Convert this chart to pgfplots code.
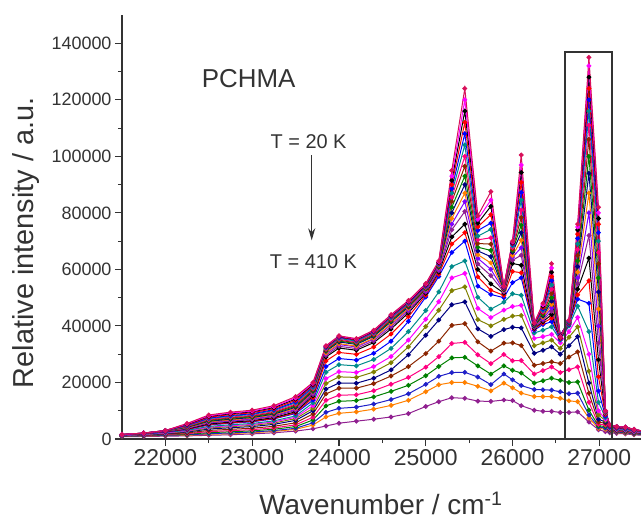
\documentclass[border=0pt]{standalone}
\usepackage{pgfplots}
\pgfplotsset{compat=1.18}
\usepackage{pgfplotstable}
\usetikzlibrary{arrows.meta}
\usepackage{fontspec}
\setmainfont{Liberation Sans}
\definecolor{cCrimson}{HTML}{D8105A}
\definecolor{cMagenta}{HTML}{FF00FF}
\definecolor{cBlack}{HTML}{000000}
\definecolor{cRed}{HTML}{FF0000}
\definecolor{cBlue}{HTML}{0000FF}
\definecolor{cDCyan}{HTML}{008B8B}
\definecolor{cPink}{HTML}{FF0080}
\definecolor{cWine}{HTML}{8B2500}
\definecolor{cGreen}{HTML}{008000}
\definecolor{cNavy}{HTML}{000080}
\definecolor{cOrange}{HTML}{FF8000}
\definecolor{cViolet}{HTML}{8000FF}
\definecolor{cPurple}{HTML}{902090}
\definecolor{cOlive}{HTML}{808000}
\definecolor{cRoyal}{HTML}{2020C8}
\definecolor{axgray}{HTML}{333333}
\pgfplotstableread{
x c1 c2 c3 c4 c5 c6 c7 c8 c9 c10 c11 c12 c13 c14 c15 c16 c17 c18 c19 c20 c21 c22 c23 c24 c25 c26
21500 1600 1600 1600 1590 1580 1580 1570 1560 1550 1540 1530 1520 1500 1490 1450 1390 1340 1270 1220 1170 1120 1060 1000 940 890 800
21750 2100 2090 2090 2080 2080 2060 2050 2040 2030 2020 1990 1980 1960 1930 1870 1790 1700 1610 1540 1450 1380 1280 1200 1100 1040 900
22000 3000 2990 2980 2970 2960 2940 2920 2900 2880 2860 2820 2800 2760 2720 2620 2480 2340 2180 2060 1920 1800 1640 1500 1340 1230 1000
22250 5500 5320 5190 5020 4840 4710 4530 4400 4270 4140 4000 3870 3740 3560 3430 3340 3040 2860 2680 2460 2160 1890 1670 1450 1320 1100
22500 8500 8210 8000 7710 7420 7200 6920 6700 6480 6270 6050 5840 5620 5330 5120 4970 4470 4180 3890 3530 3030 2600 2240 1880 1660 1300
22750 9500 9180 8940 8620 8300 8060 7740 7500 7260 7020 6780 6540 6300 5980 5740 5580 5020 4700 4380 3980 3420 2940 2540 2140 1900 1500
23000 10200 9860 9610 9280 8940 8690 8350 8100 7850 7600 7340 7090 6840 6500 6250 6080 5500 5160 4820 4400 3820 3310 2890 2470 2220 1800
23250 11800 11420 11130 10740 10360 10070 9690 9400 9110 8820 8540 8250 7960 7580 7290 7100 6420 6040 5660 5180 4500 3930 3450 2970 2680 2200
23500 15000 14510 14150 13660 13170 12800 12320 11950 11580 11220 10850 10490 10120 9630 9270 9020 8170 7680 7190 6580 5730 5000 4390 3780 3410 2800
23700 20000 19670 19340 19020 18690 18200 17870 17540 17210 16880 16560 16230 15740 15240 14590 13770 12780 11800 10820 10000 8850 7700 6720 5730 4910 3600
23850 33000 32860 32720 32570 32430 32150 31860 31580 31300 31010 30440 30160 29590 29020 27600 25620 23630 21360 19650 17660 15960 13690 11700 9430 7810 4600
24000 36500 36350 36190 36040 35880 35570 35260 34960 34650 34340 33720 33410 32790 32170 30630 28470 26300 23830 21980 19810 17960 15490 13330 10850 9090 5600
24200 35500 35350 35210 35060 34920 34620 34330 34040 33750 33460 32870 32580 32000 31410 29950 27910 25860 23530 21780 19730 17980 15640 13600 11260 9600 6300
24400 38500 38340 38190 38030 37870 37560 37240 36930 36610 36300 35670 35350 34720 34090 32520 30310 28110 25590 23700 21490 19600 17080 14880 12360 10560 7000
24600 44000 43820 43640 43460 43280 42910 42550 42190 41830 41470 40740 40380 39660 38930 37120 34590 32050 29160 26990 24450 22280 19380 16850 13950 11890 7800
24800 49000 48800 48600 48400 48200 47900 47600 47300 47000 46700 46200 45800 45200 44600 43300 41600 38000 35000 32600 29800 25600 21800 19000 16000 13700 9000
25000 55000 54780 54570 54350 54130 53910 53700 53480 53260 53040 52830 52390 51960 51520 50870 50220 45430 42390 39780 36730 30210 25420 22380 19330 16720 11500
25150 63000 62750 62500 62250 62000 61760 61510 61260 61010 60760 60510 60010 59510 59020 58270 57520 52040 48560 45570 42080 34610 29140 25650 22160 19180 13200
25300 95000 93000 91500 90000 88500 87000 85500 84000 82000 80000 78000 76000 74000 71500 69000 66000 61000 57000 52500 47500 40200 33800 28700 23500 20000 14600
25450 124000 120000 116000 112000 108000 104000 100000 96500 93000 90000 87000 84000 80500 76000 73000 70000 63000 58600 53800 48500 40800 34200 28900 23600 20000 14400
25600 79000 77690 76380 75060 73750 71780 70470 69160 67850 66540 65220 63910 61940 59980 57350 54070 50140 46200 42260 38980 34390 29800 25860 21930 18650 13400
25750 87500 84530 82310 79340 76370 74140 71180 68950 66720 64500 62270 60050 57820 54850 52630 51140 45950 42980 40010 36300 31110 26660 22950 19240 17010 13300
25900 54000 54000 53800 53800 53600 53600 53400 53200 53000 52800 52600 52400 52000 51600 50800 50000 48400 45600 42300 38700 33900 29900 25900 23000 19800 13800
26000 70000 69720 69440 69150 68870 68310 67740 67180 66620 66050 64920 64360 63230 62100 59280 55340 51390 46880 43490 39540 34000 27700 24320 20930 18110 13600
26100 100500 96950 94290 90740 87200 84530 80990 78330 75660 73000 70340 67680 65020 61470 58810 57040 50830 47280 43730 39300 33090 27770 23330 18900 16240 11800
26250 41000 41000 40800 40800 40700 40600 40500 40400 40200 40000 39900 39700 39500 39200 38900 38500 37500 35600 33000 30300 26100 23000 19800 17500 15000 10200
26350 48000 47500 47000 46500 46000 45500 45000 44500 44000 43500 43000 42500 42000 41500 41000 40500 38500 36200 34000 31400 26700 24200 20600 17400 15000 9800
26450 62000 60500 59000 57500 56000 54500 53000 51500 50000 48800 47600 46400 45200 44000 42800 41500 39700 37000 35000 32600 27300 25500 21500 17300 15000 9800
26550 36000 36200 36400 36500 36600 36700 36700 36600 36500 36400 36300 36200 36000 35800 35600 35400 35000 34000 32000 30000 26700 23500 20800 16700 14400 9400
26650 42000 42000 41900 41800 41700 41600 41500 41400 41300 41200 41100 41000 40900 40800 40700 40500 40000 38000 36000 33000 29000 24500 20000 16000 13500 9400
26750 76000 75000 74000 72500 71000 69000 67000 65000 63000 61000 59000 57000 55000 53000 51000 49500 47000 43000 39700 36200 30800 25500 20200 16200 13200 9600
26880 135000 132000 128000 124000 120000 116000 111000 106000 100000 94000 87000 80000 72000 64000 56000 48000 38000 30000 24000 19800 16200 13000 10200 8500 7400 6000
26990 82000 80000 78000 76000 73000 70000 66000 62000 57000 52000 46000 40000 34000 28000 22000 17000 13000 10000 8500 7000 6000 5200 4600 4200 3800 3300
27070 10000 9960 9930 9890 9850 9780 9700 9630 9560 9480 9330 9260 9110 8960 8590 8080 7560 6970 6520 6000 5560 4970 4450 3860 3440 2600
27120 5000 4990 4970 4960 4940 4920 4890 4860 4830 4800 4750 4720 4660 4610 4470 4270 4080 3850 3680 3490 3320 3100 2900 2680 2520 2200
27200 4400 4390 4380 4360 4350 4330 4300 4280 4260 4230 4180 4160 4110 4060 3940 3780 3610 3420 3270 3100 2960 2770 2600 2410 2270 2000
27300 4200 4190 4180 4160 4150 4130 4100 4080 4060 4030 3980 3960 3910 3860 3740 3580 3410 3220 3070 2900 2760 2570 2400 2210 2070 1800
27400 3400 3390 3380 3370 3360 3340 3320 3310 3290 3270 3230 3210 3170 3130 3040 2910 2770 2620 2510 2370 2260 2110 1980 1820 1710 1500
27500 2800 2790 2790 2780 2770 2760 2740 2730 2710 2700 2670 2650 2620 2590 2520 2410 2310 2190 2100 1990 1900 1780 1680 1560 1470 1300
}\spectra

\begin{document}
\begin{tikzpicture}
\begin{axis}[
  at={(0,0)}, anchor=south west,
  scale only axis, width=519bp, height=424bp,
  xmin=21500, xmax=27480, ymin=0, ymax=150000,
  axis lines*=left,
  axis line style={line width=1.3bp, color=axgray},
  tick align=outside,
  major tick length=7bp, minor tick length=4bp,
  every tick/.style={line width=1.1bp, color=axgray},
  xtick={22000,23000,24000,25000,26000,27000}, minor x tick num=1,
  ytick={0,20000,40000,60000,80000,100000,120000,140000}, minor y tick num=1,
  scaled ticks=false,
  /pgf/number format/fixed,
  /pgf/number format/precision=0,
  /pgf/number format/1000 sep={},
  /pgf/number format/assume math mode=true,
  xticklabel style={font=\fontsize{23}{26}\selectfont, text=axgray},
  yticklabel style={font=\fontsize{18}{21}\selectfont, text=axgray},
  xlabel={Wavenumber / cm\textsuperscript{-1}},
  ylabel={Relative intensity / a.u.},
  xlabel style={font=\fontsize{28}{32}\selectfont, text=axgray, at={(axis description cs:0.499,-0.179)}, anchor=base},
  ylabel style={font=\fontsize{29}{33}\selectfont, text=axgray, at={(axis description cs:-0.170,0.463)}, anchor=base},
  clip=true,
  every axis plot/.append style={line width=1bp, mark=*, mark size=1.9bp, mark options={solid}},
]
\addplot[color=cPurple] table[x=x,y=c26]{\spectra};
\addplot[color=cOrange] table[x=x,y=c25]{\spectra};
\addplot[color=cRoyal] table[x=x,y=c24]{\spectra};
\addplot[color=cGreen] table[x=x,y=c23]{\spectra};
\addplot[color=cPink] table[x=x,y=c22]{\spectra};
\addplot[color=cWine] table[x=x,y=c21]{\spectra};
\addplot[color=cNavy] table[x=x,y=c20]{\spectra};
\addplot[color=cOlive] table[x=x,y=c19]{\spectra};
\addplot[color=cMagenta] table[x=x,y=c18]{\spectra};
\addplot[color=cDCyan] table[x=x,y=c17]{\spectra};
\addplot[color=cBlue] table[x=x,y=c16]{\spectra};
\addplot[color=cRed] table[x=x,y=c15]{\spectra};
\addplot[color=cBlack] table[x=x,y=c14]{\spectra};
\addplot[color=cPurple] table[x=x,y=c13]{\spectra};
\addplot[color=cViolet] table[x=x,y=c12]{\spectra};
\addplot[color=cOrange] table[x=x,y=c11]{\spectra};
\addplot[color=cNavy] table[x=x,y=c10]{\spectra};
\addplot[color=cGreen] table[x=x,y=c9]{\spectra};
\addplot[color=cWine] table[x=x,y=c8]{\spectra};
\addplot[color=cPink] table[x=x,y=c7]{\spectra};
\addplot[color=cDCyan] table[x=x,y=c6]{\spectra};
\addplot[color=cBlue] table[x=x,y=c5]{\spectra};
\addplot[color=cRed] table[x=x,y=c4]{\spectra};
\addplot[color=cBlack] table[x=x,y=c3]{\spectra};
\addplot[color=cMagenta] table[x=x,y=c2]{\spectra};
\addplot[color=cCrimson] table[x=x,y=c1]{\spectra};
\node[font=\fontsize{26}{30}\selectfont, text=axgray, anchor=base] at (axis cs:22960,124300) {PCHMA};
\node[font=\fontsize{20}{24}\selectfont, text=axgray, anchor=base] at (axis cs:23650,102700) {T = 20 K};
\node[font=\fontsize{20}{24}\selectfont, text=axgray, anchor=base] at (axis cs:23706,60300) {T = 410 K};
\draw[-{Stealth[length=12bp,width=7bp]}, line width=1.2bp, axgray] (axis cs:23686,100400) -- (axis cs:23686,70300);
\end{axis}
\draw[line width=1.4bp, axgray] (443bp,0bp) rectangle (490bp,387bp);
\pgfresetboundingbox
\path[use as bounding box] (-122bp,-84bp) rectangle (519bp,439bp);
\end{tikzpicture}
\end{document}
